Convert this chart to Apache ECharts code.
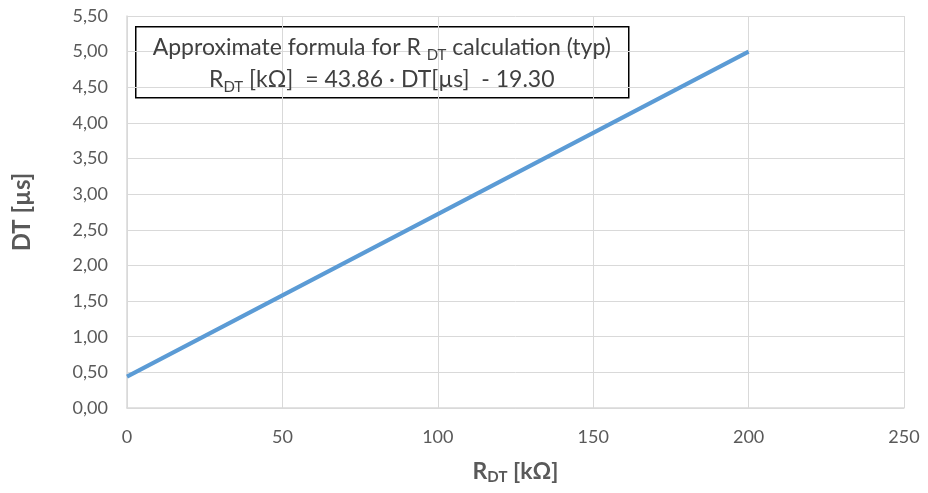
<!DOCTYPE html>
<html>
<head>
<meta charset="utf-8">
<script src="https://cdn.jsdelivr.net/npm/echarts@6/dist/echarts.min.js"></script>
<style>
  html, body { margin: 0; padding: 0; background: #fff; }
  #chart { width: 928px; height: 493px; }
</style>
</head>
<body>
<div id="chart"></div>
<script>
// values
const rdtValues = [0, 50, 100, 150, 200]
const dtValues = [0.44, 1.58, 2.72, 3.86, 5.0]
const xTicks = [0, 50, 100, 150, 200, 250]

const FONT = 'Lato, "Open Sans", sans-serif'
const LABEL_COLOR = '#595959'
const GRID_COLOR = '#d9d9d9'
const BOX_TEXT = '#404040'

const chart = echarts.init(document.getElementById('chart'), null, { renderer: 'canvas' })

const boxRich = {
  n: { fontSize: 23, fill: BOX_TEXT, fontFamily: FONT, lineHeight: 30, verticalAlign: 'middle' },
  s: { fontSize: 15, fill: BOX_TEXT, fontFamily: FONT, lineHeight: 30, verticalAlign: 'bottom' }
}

chart.setOption({
  animation: false,
  backgroundColor: '#fff',
  textStyle: { fontFamily: FONT },
  grid: { left: 127, right: 24, top: 16, bottom: 85 },
  xAxis: {
    type: 'value',
    min: xTicks[0],
    max: xTicks[xTicks.length - 1],
    interval: 50,
    name: 'R{sub|DT} [kΩ]',
    nameLocation: 'middle',
    nameGap: 50,
    nameTextStyle: {
      color: LABEL_COLOR,
      fontSize: 23,
      fontWeight: 'bold',
      fontFamily: FONT,
      rich: {
        sub: { fontSize: 15, fontWeight: 'bold', color: LABEL_COLOR, fontFamily: FONT, verticalAlign: 'bottom', padding: [12, 0, 0, 0] }
      }
    },
    axisLine: { show: true, lineStyle: { color: GRID_COLOR, width: 1.5 } },
    axisTick: { show: false },
    axisLabel: { color: LABEL_COLOR, fontSize: 18, margin: 20, fontFamily: FONT },
    splitLine: { show: true, lineStyle: { color: GRID_COLOR, width: 1 } }
  },
  yAxis: {
    type: 'value',
    min: 0,
    max: 5.5,
    interval: 0.5,
    name: 'DT [µs]',
    nameLocation: 'middle',
    nameGap: 93,
    nameTextStyle: { color: LABEL_COLOR, fontSize: 24, fontWeight: 'bold', fontFamily: FONT },
    axisLine: { show: true, lineStyle: { color: GRID_COLOR, width: 1.5 } },
    axisTick: { show: false },
    axisLabel: {
      color: LABEL_COLOR,
      fontSize: 18,
      margin: 19,
      fontFamily: FONT,
      formatter: (v) => v.toFixed(2).replace('.', ',')
    },
    splitLine: { show: true, lineStyle: { color: GRID_COLOR, width: 1 } }
  },
  graphic: [
    {
      type: 'group',
      left: 135,
      top: 26,
      z: 100,
      children: [
        {
          type: 'rect',
          shape: { x: 0, y: 0, width: 493, height: 71 },
          style: { fill: '#fff', stroke: '#000', lineWidth: 1.5 }
        },
        {
          type: 'text',
          x: 246,
          y: 6,
          z2: 10,
          style: {
            text: '{n|Approximate formula for R }{s|DT}{n| calculation (typ)}',
            align: 'center',
            verticalAlign: 'top',
            rich: boxRich
          }
        },
        {
          type: 'text',
          x: 246,
          y: 38,
          z2: 10,
          style: {
            text: '{n|R}{s|DT}{n| [kΩ]  = 43.86 · DT[µs]  - 19.30}',
            align: 'center',
            verticalAlign: 'top',
            rich: boxRich
          }
        }
      ]
    }
  ],
  series: [
    {
      type: 'line',
      data: rdtValues.map((x, i) => [x, dtValues[i]]),
      showSymbol: false,
      lineStyle: { color: '#5b9bd5', width: 4 },
      z: 3
    }
  ]
})
</script>
</body>
</html>
